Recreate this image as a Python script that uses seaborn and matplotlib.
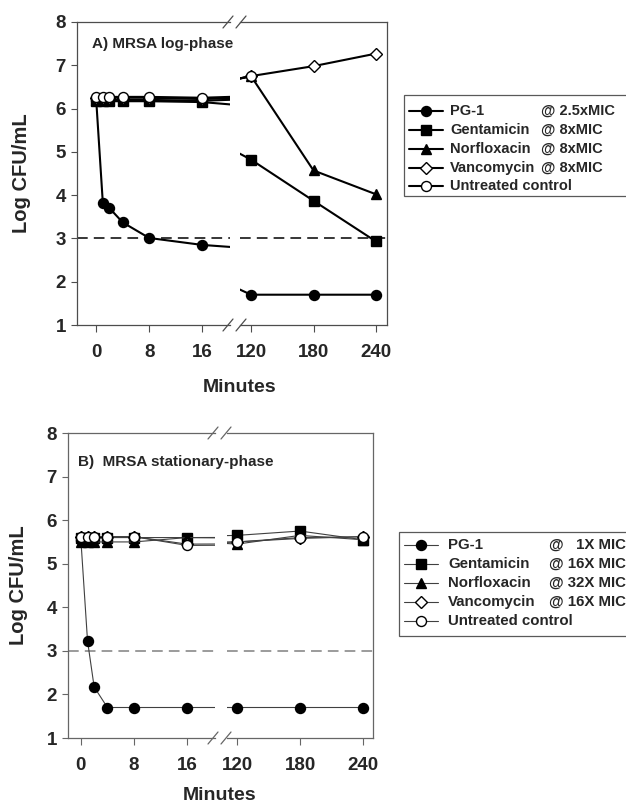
import numpy as np
import pandas as pd
import matplotlib
matplotlib.use('Agg')
import matplotlib.pyplot as plt
import seaborn as sns
from matplotlib.lines import Line2D
from matplotlib.patches import Rectangle

sns.set_style('white')
plt.rcParams['font.family'] = ['Liberation Sans', 'DejaVu Sans']
plt.rcParams['font.weight'] = 'bold'

# ---------------- data ----------------
minutes = [0, 1, 2, 4, 8, 16, 120, 180, 240]
drugs = ['PG-1', 'Gentamicin', 'Norfloxacin', 'Vancomycin', 'Untreated control']

# A) log-phase
pg1_a = [6.20, 3.82, 3.70, 3.37, 3.01, 2.85, 1.70, 1.70, 1.70]
gent_a = [6.17, 6.17, 6.17, 6.17, 6.17, 6.15, 4.82, 3.87, 2.93]
norf_a = [6.20, 6.20, 6.20, 6.20, 6.20, 6.18, 6.75, 4.57, 4.02]
vanc_a = [6.25, 6.25, 6.25, 6.25, 6.25, 6.22, 6.75, 6.98, 7.27]
ctrl_a = [6.27, 6.27, 6.27, 6.27, 6.27, 6.25, 6.75, np.nan, np.nan]
dose_a = ['@ 2.5xMIC', '@ 8xMIC', '@ 8xMIC', '@ 8xMIC', '']

# B) stationary-phase
pg1_b = [5.55, 3.23, 2.17, 1.70, 1.70, 1.70, 1.70, 1.70, 1.70]
gent_b = [5.60, 5.60, 5.60, 5.60, 5.60, 5.60, 5.65, 5.75, 5.55]
norf_b = [5.50, 5.50, 5.50, 5.50, 5.50, 5.60, 5.45, 5.65, 5.55]
vanc_b = [5.62, 5.62, 5.62, 5.62, 5.62, 5.45, 5.50, 5.60, 5.62]
ctrl_b = [5.62, 5.62, 5.62, 5.62, 5.62, 5.42, 5.50, 5.58, 5.62]
dose_b = ['@   1X MIC', '@ 16X MIC', '@ 32X MIC', '@ 16X MIC', '']

detection_limit = 3

# marker style per drug
markers = ['o', 's', '^', 'D', 'o']
faces = ['black', 'black', 'black', 'white', 'white']
sizes = [7.2, 6.5, 7.2, 6.2, 7.2]

W, H = 626, 805


def fx(x):
    return x / W


def fy(y):
    return 1 - y / H


def add_axes(x0, x1, y0, y1):
    return fig.add_axes([fx(x0), fy(y1), fx(x1) - fx(x0), fy(y0) - fy(y1)])


fig = plt.figure(figsize=(6.26, 8.05), dpi=100)


def draw_panel(left_px, gap_px, right_px, top, bottom, xl_left, xl_right,
               series, doses, title, title_xy, lw, line_col, spine_col,
               dash_col, leg_box, leg_rows, leg_handle, leg_text_x, leg_at_x, leg_fs,
               xlabel_x, xlabel_y, ylabel_x, break_centers):
    axl = add_axes(left_px, gap_px[0], top, bottom)
    axr = add_axes(gap_px[1], right_px, top, bottom)
    for ax, xl, ticks in [(axl, xl_left, [0, 8, 16]), (axr, xl_right, [120, 180, 240])]:
        for vals, m, fc, ms in zip(series, markers, faces, sizes):
            sns.lineplot(x=minutes, y=vals, ax=ax, color=line_col, marker=m,
                         markerfacecolor=fc, markeredgecolor='black',
                         markeredgewidth=1.0, markersize=ms, linewidth=lw)
        ax.axhline(detection_limit, color=dash_col, linestyle=(0, (7, 4)), lw=1.1, zorder=1)
        ax.set_xlim(*xl)
        ax.set_ylim(1, 8)
        ax.set_xticks(ticks)
        ax.set_xticklabels([str(t) for t in ticks], fontsize=13.5, fontweight='bold')
        ax.set_xlabel('')
        ax.set_ylabel('')
        ax.tick_params(axis='x', direction='out', length=5, width=0.8, pad=9,
                       bottom=True, color=spine_col)
        for sp in ax.spines.values():
            sp.set_color(spine_col)
            sp.set_linewidth(0.9)
    axl.spines['right'].set_visible(False)
    axr.spines['left'].set_visible(False)
    axl.set_yticks(range(1, 9))
    axl.set_yticklabels([str(v) for v in range(1, 9)], fontsize=13.5, fontweight='bold')
    axl.tick_params(axis='y', direction='out', length=4, width=0.8, pad=4, left=True,
                    color=spine_col)
    axr.set_yticks([])

    # break marks
    for cx in break_centers:
        for cy in (top, bottom):
            fig.add_artist(Line2D([fx(cx - 5), fx(cx + 5)], [fy(cy + 6), fy(cy - 6)],
                                  transform=fig.transFigure, color=spine_col, lw=0.9))

    fig.text(fx(title_xy[0]), fy(title_xy[1]), title, fontsize=11, fontweight='bold',
             va='center', ha='left')
    fig.text(fx(xlabel_x), fy(xlabel_y), 'Minutes', fontsize=14, fontweight='bold',
             ha='center', va='center')
    fig.text(fx(ylabel_x), fy((top + bottom) / 2), 'Log CFU/mL', fontsize=14.5,
             fontweight='bold', rotation=90, ha='center', va='center')

    # legend box
    bx0, by0, bx1, by1 = leg_box
    fig.add_artist(Rectangle((fx(bx0), fy(by1)), fx(bx1) - fx(bx0), fy(by0) - fy(by1),
                             transform=fig.transFigure, facecolor='white',
                             edgecolor='0.35', lw=0.9))
    for name, dose, m, fc, ms, ry in zip(drugs, doses, markers, faces, sizes, leg_rows):
        fig.add_artist(Line2D([fx(leg_handle[0]), fx(leg_handle[1])], [fy(ry), fy(ry)],
                              transform=fig.transFigure, color=line_col, lw=lw))
        fig.add_artist(Line2D([fx((leg_handle[0] + leg_handle[1]) / 2)], [fy(ry)],
                              transform=fig.transFigure, marker=m, markerfacecolor=fc,
                              markeredgecolor='black', markersize=ms, markeredgewidth=1.0,
                              linestyle='none'))
        fig.text(fx(leg_text_x), fy(ry), name, fontsize=leg_fs, fontweight='bold',
                 va='center', ha='left')
        if dose:
            fig.text(fx(leg_at_x), fy(ry), dose, fontsize=leg_fs, fontweight='bold',
                     va='center', ha='left')
    return axl, axr


draw_panel(77, (230, 240), 387, 22, 325, (-2.9, 20.2), (109.4, 250.6),
           [pg1_a, gent_a, norf_a, vanc_a, ctrl_a], dose_a, 'A) MRSA log-phase', (92, 44),
           1.5, 'black', '0.3', 'black',
           (404, 95, 640, 196), [111, 130, 149, 168, 186], (409, 443), 450, 541, 10.5,
           240, 387, 22, (228, 241))

draw_panel(68, (215, 227), 373, 433, 738, (-1.94, 20.2), (110.5, 249.5),
           [pg1_b, gent_b, norf_b, vanc_b, ctrl_b], dose_b, 'B)  MRSA stationary-phase',
           (78, 462), 0.8, '0.25', '0.4', '0.5',
           (399, 532, 640, 636), [545, 564, 583, 602, 621], (404, 438), 448, 549, 10.8,
           220, 795, 19, (213, 226))

fig.savefig('out.png', dpi=100)
